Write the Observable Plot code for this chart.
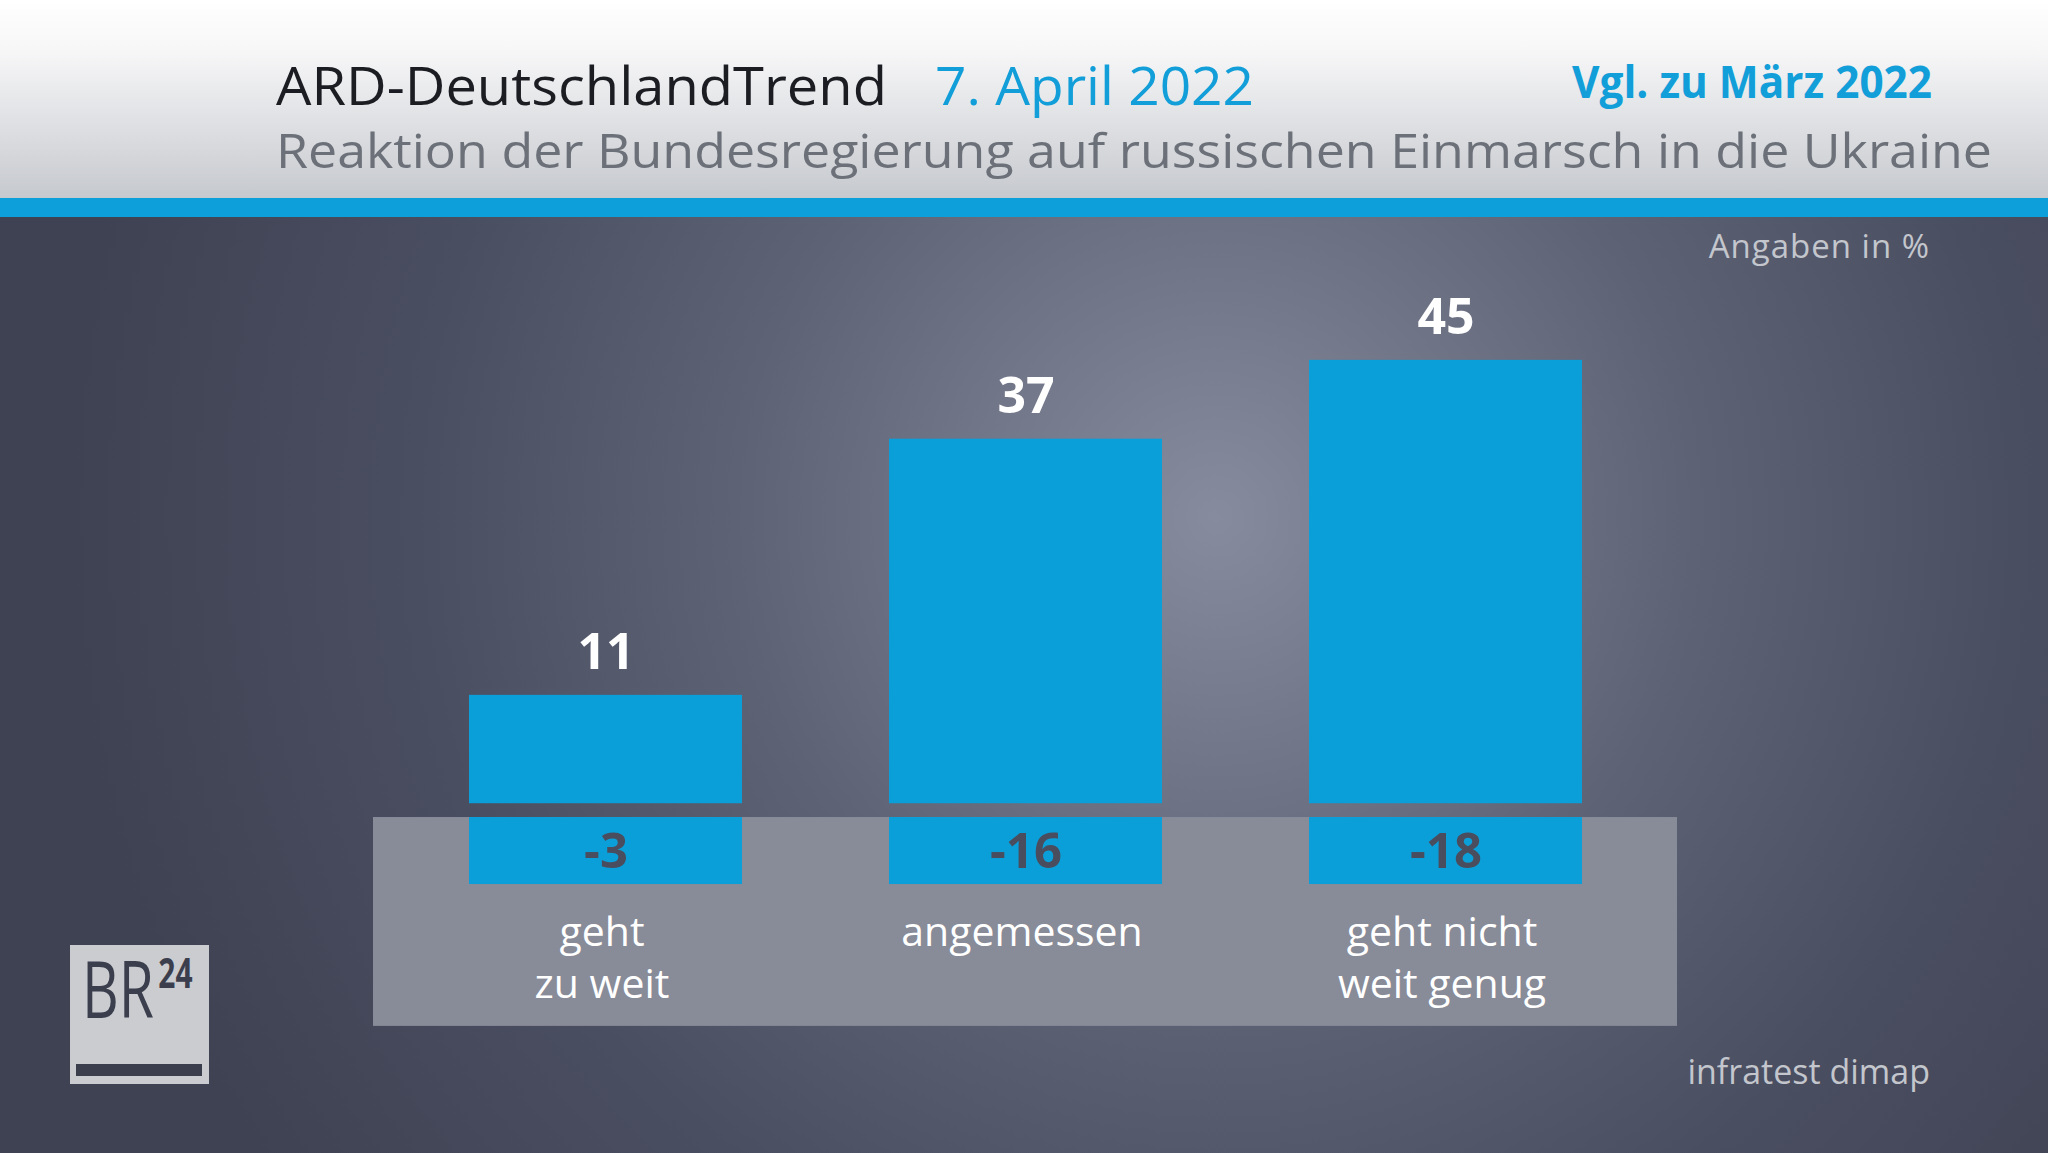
<!DOCTYPE html>
<html>
<head>
<meta charset="utf-8">
<script src="https://cdn.jsdelivr.net/npm/d3@7"></script>
<script src="https://cdn.jsdelivr.net/npm/@observablehq/plot@0.6"></script>
<style>
  html, body { margin: 0; padding: 0; background: #3f4353; }
  #page { position: relative; width: 2048px; height: 1153px; overflow: hidden; font-family: "Open Sans", "Noto Sans", sans-serif; }
  #header { position: absolute; left: 0; top: 0; }
  #chart { position: absolute; left: 0; top: 217px; width: 2048px; height: 936px;
    background: radial-gradient(circle at 1215px 300px, #868b9e 0px, #73788b 220px, #5d6275 480px, #4a4e61 800px, #3e4252 1150px); }
  #overlay { position: absolute; left: 0; top: 0; pointer-events: none; }
  text { font-family: "Open Sans", "Noto Sans", sans-serif; }
</style>
</head>
<body>
<div id="page">
  <svg id="header" width="2048" height="217">
    <defs>
      <linearGradient id="hg" x1="0" y1="0" x2="0" y2="1">
        <stop offset="0" stop-color="#ffffff"/>
        <stop offset="0.25" stop-color="#f7f7f8"/>
        <stop offset="1" stop-color="#c6c9ce"/>
      </linearGradient>
    </defs>
    <rect x="0" y="0" width="2048" height="198" fill="url(#hg)"/>
    <rect x="0" y="198" width="2048" height="19" fill="#0c9fd9"/>
    <text id="t-title" x="276" y="105" font-size="53" fill="#1b1d23" textLength="611" lengthAdjust="spacingAndGlyphs"></text>
    <text id="t-date" x="935" y="105" font-size="53" fill="#129ed8" textLength="319" lengthAdjust="spacingAndGlyphs"></text>
    <text id="t-vgl" x="1572" y="98" font-size="45" font-weight="700" fill="#129ed8" textLength="360" lengthAdjust="spacingAndGlyphs"></text>
    <text id="t-sub" x="276" y="168" font-size="48" fill="#6b7079" textLength="1716" lengthAdjust="spacingAndGlyphs"></text>
  </svg>
  <div id="chart"></div>
  <svg id="overlay" width="2048" height="1153">
    <text id="t-unit" x="1930" y="258" font-size="33" fill="#c3c6cc" text-anchor="end" letter-spacing="1"></text>
    <text id="t-source" x="1930" y="1084" font-size="34" fill="#c3c6cc" text-anchor="end"></text>
    <g id="logo">
      <rect x="70" y="945" width="139" height="139" fill="#cbccd0"/>
      <text transform="translate(82,1018) scale(0.73,1)" fill="#3b3f4d"><tspan font-size="78" font-weight="500">BR</tspan><tspan dx="6" dy="-30" font-size="41" font-weight="700">24</tspan></text>
      <rect x="76" y="1064" width="126" height="12" fill="#3b3f4d"/>
    </g>
  </svg>
</div>
<script>
// ---- texts ----
const titleText = "ARD-DeutschlandTrend";
const dateText = "7. April 2022";
const compareText = "Vgl. zu März 2022";
const subtitleText = "Reaktion der Bundesregierung auf russischen Einmarsch in die Ukraine";
const unitText = "Angaben in %";
const sourceText = "infratest dimap";

// ---- data ----
const categories = ["geht\nzu weit", "angemessen", "geht nicht\nweit genug"];
const values = [11, 37, 45];
const changes = [-3, -16, -18];

document.getElementById("t-title").textContent = titleText;
document.getElementById("t-date").textContent = dateText;
document.getElementById("t-vgl").textContent = compareText;
document.getElementById("t-sub").textContent = subtitleText;
document.getElementById("t-unit").textContent = unitText;
document.getElementById("t-source").textContent = sourceText;

const data = categories.map((c, i) => ({cat: c, value: values[i], change: changes[i]}));

// layout constants in y-units (below the zero line)
const stripTop = -1.4, stripBottom = -22.6;
const changeBoxBottom = -8.2;
const changeLabelY = -6.5;
const catLabelY = -10.7;

const blue = "#0b9fd9";

const chart = Plot.plot({
  width: 2048,
  height: 936,
  marginLeft: 373,
  marginRight: 371,
  marginTop: 0,
  marginBottom: 0,
  style: {background: "transparent", fontFamily: "'Open Sans', 'Noto Sans', sans-serif", overflow: "visible"},
  x: {domain: categories, paddingInner: 0.35, paddingOuter: 0.225, axis: null},
  y: {domain: [-35.5, 59.5], axis: null},
  marks: [
    Plot.rect([{a: stripTop, b: stripBottom}], {y1: "a", y2: "b", fill: "#888b98"}),
    Plot.barY(data, {x: "cat", y: "value", fill: blue}),
    Plot.barY(data, {x: "cat", y1: stripTop, y2: changeBoxBottom, fill: blue}),
    Plot.text(data, {x: "cat", y: "value", text: d => String(d.value), lineAnchor: "bottom", dy: -26,
      fill: "white", fontWeight: 700, fontSize: 50}),
    Plot.text(data, {x: "cat", y: changeLabelY, text: d => String(d.change), lineAnchor: "bottom",
      fill: "#4a4d5e", fontWeight: 700, fontSize: 49}),
    Plot.text(data, {x: "cat", y: catLabelY, text: "cat", lineAnchor: "top", lineHeight: 1.27, dx: -4,
      fill: "white", fontSize: 41})
  ]
});
document.getElementById("chart").appendChild(chart);
</script>
</body>
</html>
